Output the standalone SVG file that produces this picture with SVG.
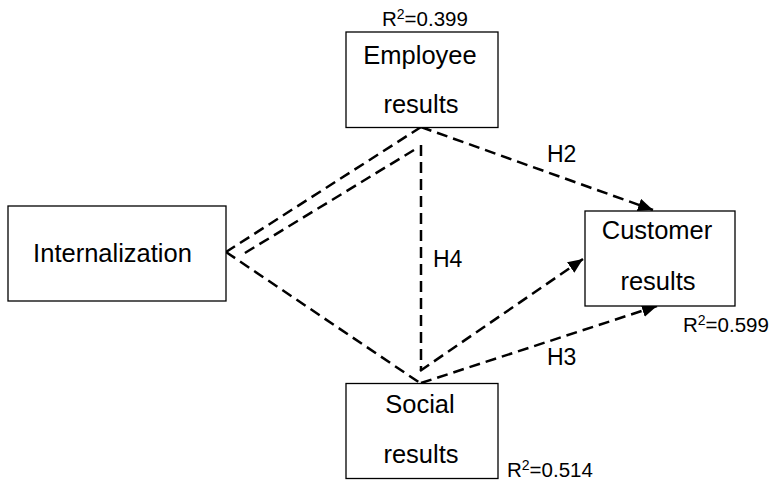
<svg xmlns="http://www.w3.org/2000/svg" width="771" height="486" viewBox="0 0 771 486">
<defs>
<style>
.box{fill:#fff;stroke:#000;stroke-width:1.3}
.lbl{font-family:"Liberation Sans",Arial,sans-serif;font-size:25.5px;fill:#000}
.h{font-family:"Liberation Sans",Arial,sans-serif;font-size:23px;fill:#000}
.r2{font-family:"Liberation Sans",Arial,sans-serif;font-size:20.5px;fill:#000}
.sup{font-size:14px}
.c{fill:none;stroke:#000;stroke-width:2.5;stroke-dasharray:11 6}
</style>
<marker id="arr" markerUnits="userSpaceOnUse" markerWidth="16" markerHeight="14" refX="15" refY="6.5" orient="auto">
<path d="M0,0 L15,6.5 L0,13 z" fill="#000"/>
</marker>
</defs>
<rect width="771" height="486" fill="#fff"/>
<g id="connectors">
<line class="c" x1="421" y1="127" x2="226" y2="252"/>
<line class="c" x1="414" y1="150" x2="240" y2="256"/>
<line class="c" x1="226" y1="252" x2="420" y2="383"/>
<line class="c" x1="421" y1="145" x2="421" y2="370"/>
<line class="c" x1="421" y1="127" x2="653" y2="210" marker-end="url(#arr)"/>
<line class="c" x1="420" y1="371" x2="583" y2="259" marker-end="url(#arr)"/>
<line class="c" x1="421" y1="383" x2="657" y2="306" marker-end="url(#arr)"/>
<text class="h" x="547" y="162">H2</text>
<text class="h" x="433" y="267">H4</text>
<text class="h" x="547" y="365">H3</text>
</g>
<g id="employee">
<rect class="box" x="346" y="32" width="152" height="95.5"/>
<text class="lbl" x="420" y="64" text-anchor="middle">Employee</text>
<text class="lbl" x="421" y="113" text-anchor="middle">results</text>
<text class="r2" x="382" y="26">R<tspan class="sup" dy="-7">2</tspan><tspan dy="7">=0.399</tspan></text>
</g>
<g id="internalization">
<rect class="box" x="8" y="206" width="218" height="95"/>
<text class="lbl" x="112.5" y="262" text-anchor="middle">Internalization</text>
</g>
<g id="customer">
<rect class="box" x="585" y="211" width="150" height="95"/>
<text class="lbl" x="657" y="239" text-anchor="middle">Customer</text>
<text class="lbl" x="658" y="290" text-anchor="middle">results</text>
<text class="r2" x="683" y="332">R<tspan class="sup" dy="-7">2</tspan><tspan dy="7">=0.599</tspan></text>
</g>
<g id="social">
<rect class="box" x="346" y="383.5" width="152" height="95"/>
<text class="lbl" x="420" y="413" text-anchor="middle">Social</text>
<text class="lbl" x="421" y="463" text-anchor="middle">results</text>
<text class="r2" x="507" y="477">R<tspan class="sup" dy="-7">2</tspan><tspan dy="7">=0.514</tspan></text>
</g>
</svg>
